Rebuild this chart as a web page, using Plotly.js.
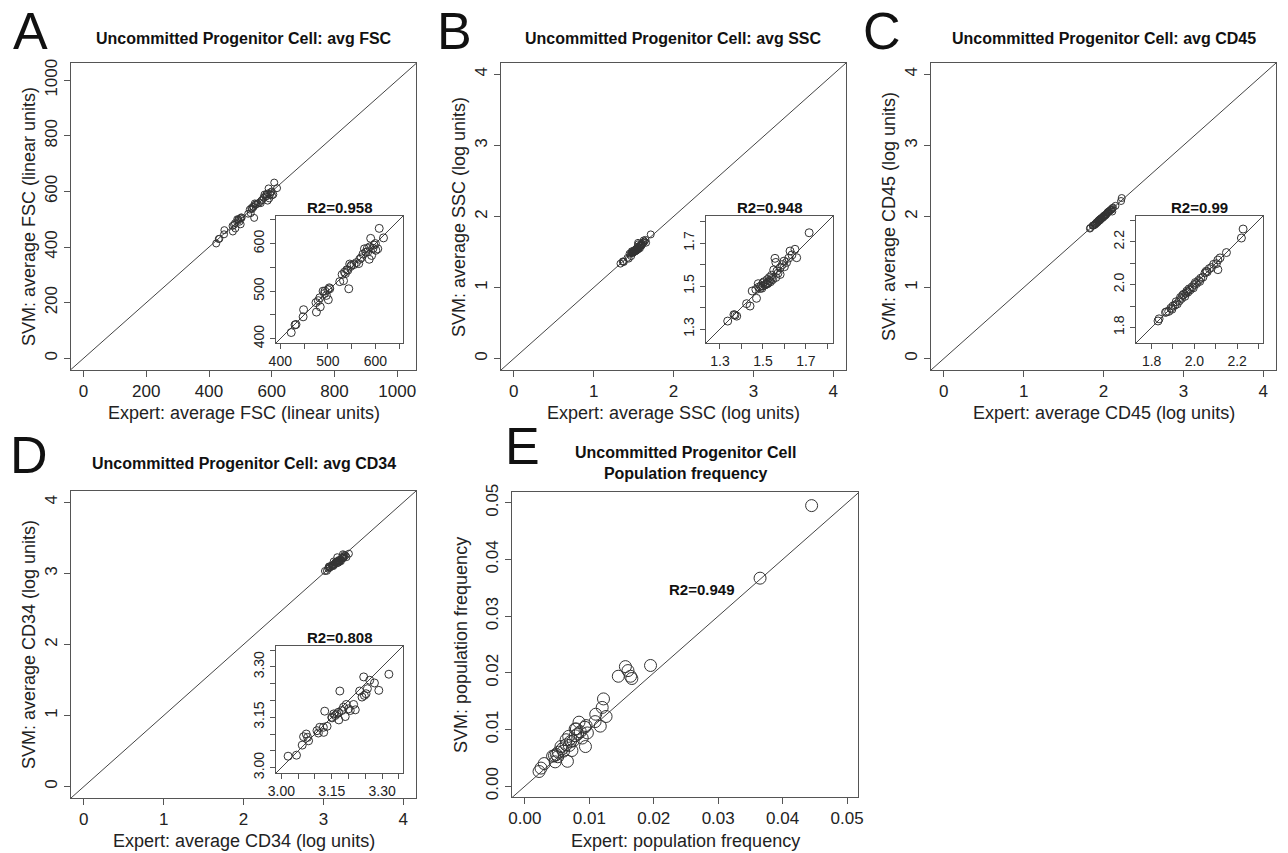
<!DOCTYPE html>
<html>
<head>
<meta charset="utf-8">
<script src="https://cdn.plot.ly/plotly-3.0.1.min.js"></script>
<style>html,body{margin:0;padding:0;background:#fff;}#chart{width:1288px;height:853px;}</style>
</head>
<body>
<div id="chart"></div>
<script>
// ---------------- DATA ----------------
const fscExpert = [423,431,433,449,448,475,476,484,483,490,494,497,501,504,500,503,525,533,537,544,542,546,548,555,560,565,567,570,574,577,580,584,587,590,592,597,601,605,608,617,583,588,595,600,535,540,550,480,493,530];
const fscSvm    = [413,429,430,461,446,476,456,467,486,500,500,491,482,505,503,507,520,522,537,505,544,557,552,556,560,558,567,570,578,589,582,583,567,611,575,597,586,589,632,612,590,593,590,600,540,545,555,480,495,535];

const sscExpert = [1.336,1.365,1.37,1.378,1.424,1.44,1.45,1.47,1.467,1.478,1.486,1.49,1.50,1.505,1.51,1.52,1.52,1.525,1.53,1.535,1.54,1.545,1.55,1.556,1.56,1.56,1.565,1.57,1.58,1.58,1.59,1.598,1.60,1.61,1.62,1.626,1.635,1.649,1.657,1.715,1.48,1.495,1.50,1.515,1.53,1.54];
const sscSvm    = [1.337,1.367,1.365,1.36,1.418,1.407,1.477,1.443,1.484,1.511,1.489,1.50,1.515,1.52,1.505,1.51,1.53,1.515,1.54,1.52,1.55,1.53,1.575,1.629,1.61,1.54,1.57,1.56,1.554,1.585,1.60,1.616,1.59,1.61,1.63,1.663,1.645,1.671,1.632,1.748,1.495,1.49,1.50,1.51,1.525,1.535];

const cd45Expert = [1.83,1.835,1.865,1.87,1.88,1.89,1.895,1.90,1.91,1.915,1.92,1.93,1.935,1.94,1.945,1.95,1.955,1.96,1.965,1.97,1.975,1.98,1.99,1.995,2.00,2.005,2.01,2.02,2.025,2.03,2.04,2.05,2.056,2.06,2.07,2.08,2.09,2.103,2.11,2.11,2.12,2.15,2.22,2.228];
const cd45Svm    = [1.83,1.84,1.87,1.873,1.875,1.89,1.885,1.90,1.905,1.92,1.91,1.925,1.94,1.935,1.95,1.955,1.945,1.96,1.97,1.965,1.98,1.975,1.99,1.985,2.00,2.01,2.005,2.02,2.015,2.03,2.035,2.055,2.063,2.06,2.075,2.08,2.095,2.098,2.07,2.115,2.125,2.15,2.218,2.26];

const cd34Expert = [3.02,3.045,3.062,3.066,3.074,3.081,3.078,3.106,3.11,3.114,3.126,3.129,3.136,3.151,3.156,3.165,3.171,3.174,3.18,3.19,3.193,3.20,3.205,3.215,3.22,3.233,3.245,3.247,3.252,3.256,3.263,3.277,3.29,3.32,3.15,3.16,3.185,3.125,3.24,3.17];
const cd34Svm    = [3.034,3.037,3.067,3.092,3.10,3.08,3.09,3.11,3.103,3.12,3.105,3.168,3.123,3.148,3.16,3.16,3.142,3.228,3.17,3.152,3.188,3.175,3.17,3.188,3.172,3.228,3.27,3.215,3.22,3.235,3.26,3.252,3.23,3.278,3.15,3.155,3.18,3.12,3.21,3.165];

const freqExpert = [0.0445,0.0365,0.0195,0.0156,0.0145,0.016,0.0164,0.0166,0.0122,0.012,0.011,0.0126,0.0117,0.0109,0.0095,0.0094,0.0084,0.008,0.0097,0.0089,0.0078,0.0068,0.0071,0.0064,0.0073,0.0066,0.0058,0.0052,0.0049,0.0046,0.0051,0.0047,0.0043,0.003,0.0025,0.0022,0.0078,0.0086,0.0093,0.0064,0.0056,0.0069,0.0082,0.0060,0.0075];
const freqSvm    = [0.0495,0.0367,0.0213,0.0211,0.0194,0.0204,0.0194,0.019,0.0154,0.0139,0.0127,0.0123,0.0106,0.0114,0.0107,0.007,0.0113,0.0101,0.0094,0.0085,0.0089,0.0088,0.0079,0.0073,0.0063,0.0044,0.0066,0.006,0.0056,0.0054,0.0052,0.0043,0.0053,0.004,0.0032,0.0026,0.0101,0.0096,0.0104,0.0082,0.0070,0.0072,0.0092,0.0062,0.0080];

// tick labels
const ticksFSC = [0,200,400,600,800,1000];
const tickLabelsFSC = ['0','200','400','600','800','1000'];
const ticksLog = [0,1,2,3,4];
const tickLabelsLog = ['0','1','2','3','4'];
const ticksFreq = [0,0.01,0.02,0.03,0.04,0.05];
const tickLabelsFreq = ['0.00','0.01','0.02','0.03','0.04','0.05'];
const insetTicksFSC = [400,450,500,550,600,650];
const insetLabelsFSC = ['400','','500','','600',''];
const insetTicksSSC = [1.3,1.4,1.5,1.6,1.7,1.8];
const insetLabelsSSC = ['1.3','','1.5','','1.7',''];
const insetTicksCD45 = [1.8,1.9,2.0,2.1,2.2,2.3];
const insetLabelsCD45 = ['1.8','','2.0','','2.2',''];
const insetTicksCD34 = [3.00,3.05,3.10,3.15,3.20,3.25,3.30,3.35];
const insetLabelsCD34 = ['3.00','','','3.15','','','3.30',''];

const panelLetters = ['A','B','C','D','E'];
const panelTitles = ['Uncommitted Progenitor Cell: avg FSC','Uncommitted Progenitor Cell: avg SSC','Uncommitted Progenitor Cell: avg CD45','Uncommitted Progenitor Cell: avg CD34','Uncommitted Progenitor Cell<br>Population frequency'];
const xTitles = ['Expert: average FSC (linear units)','Expert: average SSC (log units)','Expert: average CD45 (log units)','Expert: average CD34 (log units)','Expert: population frequency'];
const yTitles = ['SVM: average FSC (linear units)','SVM: average SSC (log units)','SVM: average CD45 (log units)','SVM: average CD34 (log units)','SVM: population frequency'];
const r2Labels = ['R2=0.958','R2=0.948','R2=0.99','R2=0.808','R2=0.949'];

// ---------------- LAYOUT ----------------
const W = 1288, H = 853;
const FONT = 'Liberation Sans, Arial, Helvetica, sans-serif';
const INK = '#222';
const AXC = '#555';

// subplot definitions (box in pixels: left, right, top, bottom)
const subplots = [
  {x: fscExpert, y: fscSvm, box:[71,416,63,370], xr:[-40,1060], yr:[-42,1062], tv:ticksFSC, tt:tickLabelsFSC, fs:17, tl:6, ms:7},
  {x: fscExpert, y: fscSvm, box:[276,403,216,343], xr:[391,658], yr:[391,658], tv:insetTicksFSC, tt:insetLabelsFSC, fs:14, tl:5, ms:8},
  {x: sscExpert, y: sscSvm, box:[501,846,63,370], xr:[-0.16,4.16], yr:[-0.16,4.16], tv:ticksLog, tt:tickLabelsLog, fs:17, tl:6, ms:7},
  {x: sscExpert, y: sscSvm, box:[706,833,216,343], xr:[1.235,1.826], yr:[1.235,1.826], tv:insetTicksSSC, tt:insetLabelsSSC, fs:14, tl:5, ms:8},
  {x: cd45Expert, y: cd45Svm, box:[931,1276,63,370], xr:[-0.16,4.16], yr:[-0.16,4.16], tv:ticksLog, tt:tickLabelsLog, fs:17, tl:6, ms:7},
  {x: cd45Expert, y: cd45Svm, box:[1136,1263,216,343], xr:[1.727,2.321], yr:[1.727,2.321], tv:insetTicksCD45, tt:insetLabelsCD45, fs:14, tl:5, ms:8},
  {x: cd34Expert, y: cd34Svm, box:[71,416,491,798], xr:[-0.16,4.16], yr:[-0.16,4.16], tv:ticksLog, tt:tickLabelsLog, fs:17, tl:6, ms:7},
  {x: cd34Expert, y: cd34Svm, box:[276,403,646,773], xr:[2.984,3.362], yr:[2.984,3.362], tv:insetTicksCD34, tt:insetLabelsCD34, fs:14, tl:5, ms:8},
  {x: freqExpert, y: freqSvm, box:[512,858,492,797], xr:[-0.002,0.0517], yr:[-0.0019,0.0519], tv:ticksFreq, tt:tickLabelsFreq, fs:17, tl:6, ms:12}
];

const data = [];
const layout = {
  width: W, height: H,
  margin: {l:0, r:0, t:0, b:0},
  paper_bgcolor: '#fff', plot_bgcolor: '#fff',
  showlegend: false,
  font: {family: FONT, color: INK},
  annotations: []
};

function axis(range, tv, tt, fs, tl, domain, anchor, isY) {
  const a = {
    domain: domain, anchor: anchor, range: range,
    tickmode: 'array', tickvals: tv, ticktext: tt,
    ticks: 'outside', ticklen: tl, tickwidth: 1, tickcolor: AXC,
    showline: true, linecolor: AXC, linewidth: 1, mirror: true,
    showgrid: false, zeroline: false,
    tickfont: {family: FONT, size: fs, color: INK},
    fixedrange: true
  };
  if (isY) a.tickangle = -90;
  return a;
}

subplots.forEach((s, i) => {
  const n = i + 1;
  const xk = n === 1 ? 'xaxis' : 'xaxis' + n;
  const yk = n === 1 ? 'yaxis' : 'yaxis' + n;
  const xid = n === 1 ? 'x' : 'x' + n;
  const yid = n === 1 ? 'y' : 'y' + n;
  const [l, r, t, b] = s.box;
  layout[xk] = axis(s.xr, s.tv, s.tt, s.fs, s.tl, [l / W, r / W], yid, false);
  layout[yk] = axis(s.yr, s.tv, s.tt, s.fs, s.tl, [1 - b / H, 1 - t / H], xid, true);
  const lo = Math.min(s.xr[0], s.yr[0]) - 1, hi = Math.max(s.xr[1], s.yr[1]) + 1;
  data.push({type: 'scatter', mode: 'lines', x: [lo, hi], y: [lo, hi], xaxis: xid, yaxis: yid,
             line: {color: '#444', width: 1}, hoverinfo: 'skip'});
  data.push({type: 'scatter', mode: 'markers', x: s.x, y: s.y, xaxis: xid, yaxis: yid,
             marker: {symbol: 'circle-open', size: s.ms, color: '#333', line: {width: 1, color: '#333'}}});
});

function ann(text, px, py, opts) {
  return Object.assign({
    text: text, xref: 'paper', yref: 'paper', x: px / W, y: 1 - py / H,
    xanchor: 'center', yanchor: 'middle', showarrow: false,
    font: {family: FONT, size: 18, color: INK}
  }, opts || {});
}

// panel letters (A-C anchored at the top edge so they stay inside the picture)
const letterPos = [[30, 0, 'top'], [454, 0, 'top'], [882, 0, 'top'], [29, 455, 'middle'], [522, 446, 'middle']];
letterPos.forEach((p, i) => layout.annotations.push(ann(panelLetters[i], p[0], p[1], {yanchor: p[2], font: {family: FONT, size: 52, color: '#111'}})));

// titles
const titlePos = [[244, 38], [673, 38], [1104, 38], [244, 463], [685, 463]];
titlePos.forEach((p, i) => layout.annotations.push(ann('<b>' + panelTitles[i].replace('<br>', '</b><br><b>') + '</b>', p[0], p[1], {font: {family: FONT, size: 16, color: '#111'}})));

// axis titles
const xTitlePos = [[244, 413], [673, 413], [1104, 413], [244, 841], [685, 841]];
xTitlePos.forEach((p, i) => layout.annotations.push(ann(xTitles[i], p[0], p[1], {font: {family: FONT, size: 18, color: INK}})));
const yTitlePos = [[29, 217], [459, 217], [889, 217], [29, 645], [461, 645]];
yTitlePos.forEach((p, i) => layout.annotations.push(ann(yTitles[i], p[0], p[1], {textangle: -90, font: {family: FONT, size: 18, color: INK}})));

// R2 labels
const r2Pos = [[339, 208], [769, 208], [1199, 208], [339, 637]];
r2Pos.forEach((p, i) => layout.annotations.push(ann('<b>' + r2Labels[i] + '</b>', p[0], p[1], {font: {family: FONT, size: 15, color: '#111'}})));
layout.annotations.push({text: '<b>' + r2Labels[4] + '</b>', xref: 'x9', yref: 'y9', x: 0.0274, y: 0.0347,
  xanchor: 'center', yanchor: 'middle', showarrow: false, font: {family: FONT, size: 15, color: '#111'}});

Plotly.newPlot('chart', data, layout, {staticPlot: true, displayModeBar: false});
</script>
</body>
</html>
